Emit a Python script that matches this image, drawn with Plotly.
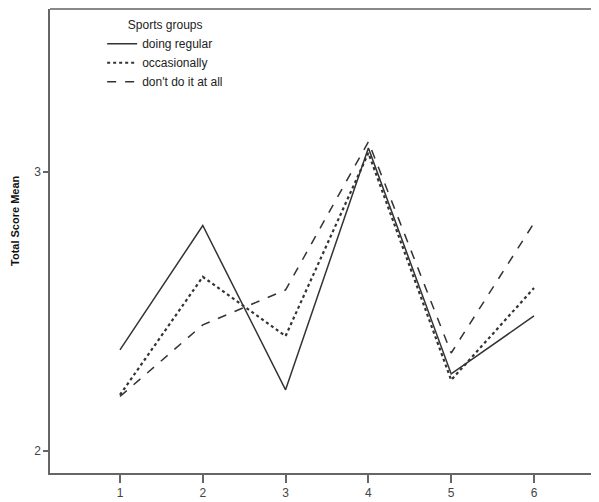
import plotly.graph_objects as go

x_vals = [1, 2, 3, 4, 5, 6]
regular = [2.362, 2.808, 2.219, 3.086, 2.276, 2.484]
occasionally = [2.201, 2.624, 2.412, 3.068, 2.254, 2.584]
not_at_all = [2.195, 2.452, 2.577, 3.108, 2.351, 2.817]
series_names = ["doing regular", "occasionally", "don't do it at all"]
y_ticks = [2, 3]

fig = go.Figure()
fig.add_trace(go.Scatter(x=x_vals, y=regular, mode="lines", name=series_names[0],
                         line=dict(color="#333333", width=1.5, dash="solid")))
fig.add_trace(go.Scatter(x=x_vals, y=occasionally, mode="lines", name=series_names[1],
                         line=dict(color="#333333", width=2.2, dash="dot")))
fig.add_trace(go.Scatter(x=x_vals, y=not_at_all, mode="lines", name=series_names[2],
                         line=dict(color="#333333", width=1.5, dash="dash")))

fig.update_layout(
    width=591, height=494,
    margin=dict(l=42, r=0, t=1, b=29),
    plot_bgcolor="white", paper_bgcolor="white",
    font=dict(family="Liberation Sans, Arial, sans-serif", size=12, color="#333333"),
    showlegend=True,
    legend=dict(
        x=0.095, y=0.99, xanchor="left", yanchor="top",
        title=dict(text="Sports groups", side="top center", font=dict(size=12, color="#222222")),
        itemwidth=30, tracegroupgap=0,
        font=dict(size=12, color="#222222"),
        bgcolor="rgba(0,0,0,0)",
    ),
    xaxis=dict(
        range=[0.155, 6.785], tickmode="array", tickvals=x_vals,
        showgrid=False, zeroline=False, showline=True, linecolor="#666666", linewidth=1.5,
        mirror=False, ticks="outside", ticklen=8, tickcolor="#666666", tickwidth=1.5,
        tickfont=dict(size=12, color="#444444"),
    ),
    yaxis=dict(
        range=[1.921, 3.584], tickmode="array", tickvals=y_ticks,
        showgrid=False, zeroline=False, showline=True, linecolor="#666666", linewidth=1.5,
        ticks="outside", ticklen=5, tickcolor="#666666", tickwidth=1.5,
        tickfont=dict(size=12, color="#444444"),
    ),
)

# top frame line
fig.add_shape(type="line", xref="paper", yref="paper", x0=0, x1=1, y0=1, y1=1,
              line=dict(color="#888888", width=2))

# y-axis title
fig.add_annotation(text="<b>Total Score Mean</b>", xref="paper", yref="paper",
                   x=-0.064, y=0.545, textangle=-90, showarrow=False,
                   xanchor="center", yanchor="middle",
                   font=dict(size=11, color="#111111"))

fig.write_html("out.html")
